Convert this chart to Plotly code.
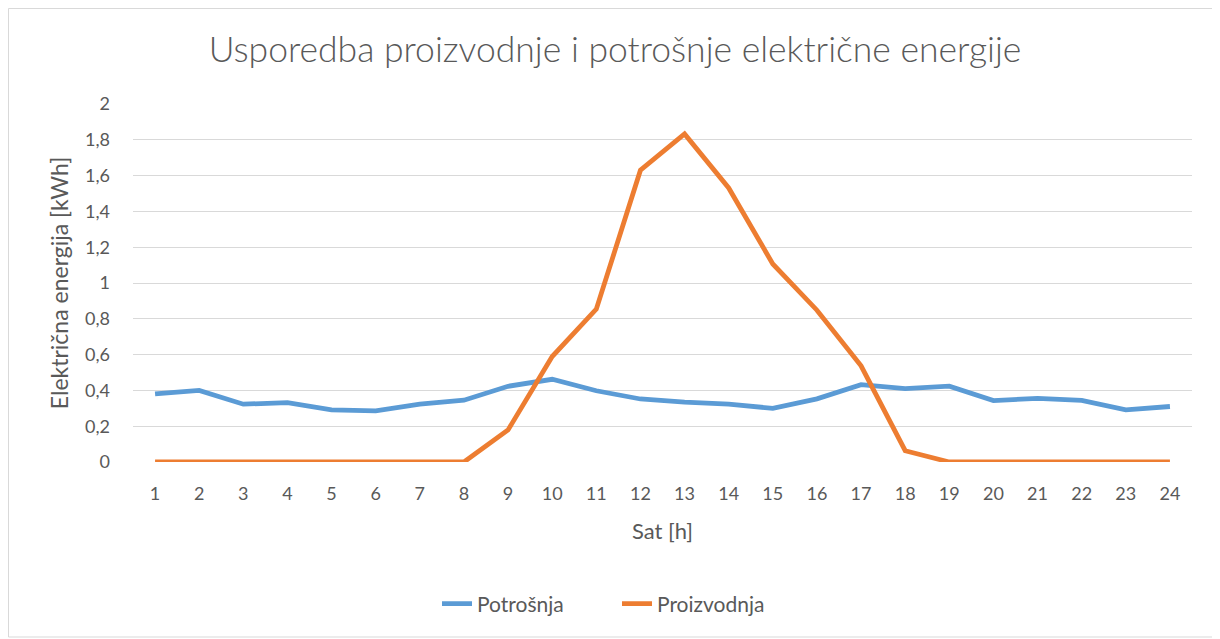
import plotly.graph_objects as go

hours = list(range(1, 25))
potrosnja = [0.38, 0.40, 0.323, 0.332, 0.291, 0.286, 0.323, 0.345, 0.423, 0.462, 0.398, 0.352,
             0.334, 0.323, 0.300, 0.353, 0.432, 0.410, 0.424, 0.343, 0.356, 0.344, 0.291, 0.310]
proizvodnja = [0, 0, 0, 0, 0, 0, 0, 0, 0.179, 0.589, 0.854, 1.630,
               1.833, 1.531, 1.106, 0.848, 0.537, 0.063, 0, 0, 0, 0, 0, 0]
y_ticks = [0, 0.2, 0.4, 0.6, 0.8, 1.0, 1.2, 1.4, 1.6, 1.8, 2.0]

BLUE = "#5B9BD5"
ORANGE = "#ED7D31"
GRAY = "#595959"
FONT = "Lato"

fig = go.Figure()
fig.add_trace(go.Scatter(x=hours, y=potrosnja, mode="lines", name="Potrošnja",
                         line=dict(color=BLUE, width=4.8)))
fig.add_trace(go.Scatter(x=hours, y=proizvodnja, mode="lines", name="Proizvodnja",
                         line=dict(color=ORANGE, width=4.8)))

OFF = 8  # page body margin
W, H = 1220 - OFF, 639 - OFF
L, T = 133 - OFF, 104 - OFF
R = W - (1192 - OFF)
B = H - (462 - OFF)
pw, ph = W - L - R, H - T - B

def px_x(p):
    return (p - OFF - L) / pw

def px_y(p):
    return (H - B - (p - OFF)) / ph

fig.update_layout(
    width=W, height=H,
    margin=dict(l=L, r=R, t=T, b=B),
    paper_bgcolor="white", plot_bgcolor="white",
    separators=", ",
    font=dict(family=FONT, color=GRAY, size=16),
    title=dict(text="Usporedba proizvodnje i potrošnje električne energije",
               xref="paper", x=px_x(615), xanchor="center",
               yref="container", y=1 - (50 - OFF) / H, yanchor="middle",
               font=dict(size=35.5, color=GRAY, family=FONT, weight=300)),
    xaxis=dict(range=[0.5, 24.5], tickvals=hours, showgrid=False, zeroline=False,
               showline=False, ticks="", ticklabelstandoff=19,
               tickfont=dict(size=18, color=GRAY),
               title=dict(text="Sat [h]", font=dict(size=22, color=GRAY), standoff=20)),
    yaxis=dict(range=[0, 2], tickvals=y_ticks, showgrid=True, gridcolor="#D9D9D9",
               gridwidth=1.3, zeroline=False, showline=False, ticks="",
               ticklabelstandoff=22, tickfont=dict(size=18, color=GRAY),
               title=dict(text="Električna energija [kWh]", font=dict(size=23, color=GRAY),
                          standoff=9)),
    legend=dict(orientation="h", x=px_x(617), xanchor="center", y=px_y(604), yanchor="middle",
                font=dict(size=21, color=GRAY), traceorder="normal",
                entrywidth=135, entrywidthmode="pixels"),
    showlegend=True,
    shapes=[dict(type="rect", xref="paper", yref="paper",
                 x0=px_x(8.5), x1=px_x(1213), y0=px_y(637), y1=px_y(8.5),
                 line=dict(color="#D9D9D9", width=1), fillcolor="rgba(0,0,0,0)", layer="below")],
)

fig.write_html("out.html")
